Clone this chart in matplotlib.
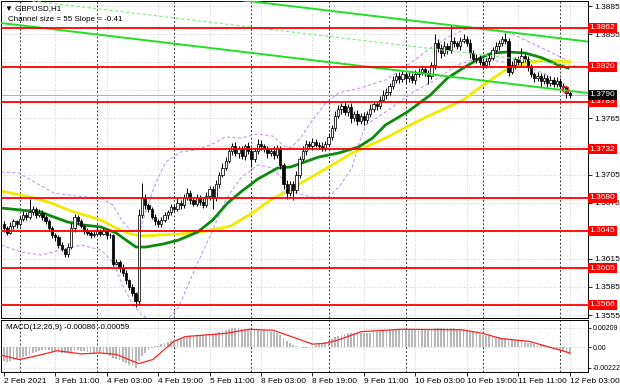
import matplotlib
matplotlib.use("Agg")
import matplotlib.pyplot as plt
from matplotlib.transforms import blended_transform_factory
import numpy as np

plt.rcParams["font.family"] = ["Liberation Sans", "DejaVu Sans"]

# GBPUSD H1, bar 0 = 2 Feb 19:00. prices in pips (3648 -> 1.3648)
close_pips = [
    3648, 3643, 3650, 3655, 3652, 3658, 3662, 3660, 3665, 3668,
    3662, 3664, 3660, 3655, 3648, 3640, 3638, 3630, 3625, 3620,
    3628, 3648, 3660, 3655, 3650, 3645, 3643, 3640, 3642, 3645,
    3642, 3645, 3640, 3640, 3610, 3612, 3605, 3600, 3592, 3585,
    3578, 3570, 3662, 3680, 3672, 3668, 3660, 3655, 3652, 3656,
    3662, 3665, 3670, 3668, 3675, 3672, 3680, 3685, 3678, 3674,
    3680, 3676, 3672, 3682, 3690, 3680, 3695, 3705, 3712, 3720,
    3730, 3735, 3728, 3732, 3725, 3735, 3730, 3722, 3730, 3738,
    3735, 3732, 3728, 3730, 3726, 3733, 3715, 3695, 3685, 3695,
    3688, 3705, 3722, 3730, 3738, 3735, 3740, 3737, 3736, 3733,
    3738, 3745, 3755, 3768, 3775, 3778, 3772, 3777, 3765, 3770,
    3762, 3768, 3763, 3770, 3775, 3780, 3778, 3785, 3790, 3793,
    3800, 3806, 3810, 3807, 3812, 3808, 3810, 3806, 3812, 3815,
    3818, 3813, 3810, 3822, 3845, 3840, 3835, 3842, 3838, 3848,
    3845, 3842, 3848, 3850, 3846, 3835, 3828, 3830, 3825, 3822,
    3826, 3830, 3838, 3842, 3845, 3850, 3848, 3815, 3822, 3828,
    3825, 3832, 3828, 3820, 3812, 3808, 3810, 3805, 3808, 3803,
    3806, 3802, 3805, 3800, 3798, 3792, 3790,
]
first_open_pips = 3652
upper_wick = [
    3, 2, 4, 3, 2, 3, 4, 3, 14, 3,
    2, 4, 3, 2, 3, 2, 3, 2, 3, 2,
    4, 5, 3, 2, 3, 2, 3, 2, 3, 4,
    2, 3, 2, 3, 2, 3, 2, 4, 3, 2,
    3, 2, 6, 16, 4, 3, 2, 3, 3, 4,
    3, 2, 4, 3, 5, 3, 4, 6, 3, 2,
    4, 3, 5, 4, 3, 3, 4, 3, 5, 4,
    3, 4, 5, 3, 4, 3, 5, 4, 3, 5,
    4, 3, 4, 3, 5, 4, 3, 2, 4, 3,
    3, 4, 3, 5, 4, 3, 4, 3, 3, 4,
    3, 4, 3, 5, 4, 3, 5, 3, 4, 3,
    4, 3, 4, 3, 5, 4, 3, 4, 5, 4,
    3, 4, 3, 5, 4, 3, 4, 3, 5, 4,
    3, 3, 4, 3, 10, 5, 4, 6, 3, 17,
    4, 3, 4, 5, 3, 4, 3, 4, 3, 4,
    3, 4, 3, 5, 4, 3, 6, 3, 4, 3,
    4, 8, 3, 4, 3, 3, 4, 3, 4, 3,
    4, 3, 4, 3, 3, 2, 2,
]
lower_wick = [
    4, 3, 2, 3, 4, 2, 3, 4, 2, 3,
    3, 2, 4, 3, 2, 3, 4, 3, 2, 3,
    3, 2, 4, 3, 2, 4, 3, 3, 2, 3,
    3, 2, 4, 3, 3, 2, 4, 3, 4, 3,
    3, 6, 4, 3, 4, 3, 2, 4, 3, 3,
    2, 4, 3, 3, 2, 4, 3, 2, 4, 3,
    3, 4, 3, 2, 4, 12, 3, 4, 3, 2,
    3, 4, 3, 5, 3, 4, 3, 9, 4, 3,
    4, 3, 5, 3, 4, 3, 4, 5, 6, 3,
    10, 3, 4, 3, 4, 3, 4, 3, 4, 3,
    3, 2, 3, 4, 3, 5, 3, 4, 5, 3,
    4, 3, 5, 3, 4, 3, 4, 3, 3, 4,
    3, 4, 3, 4, 3, 5, 4, 3, 4, 3,
    4, 3, 8, 3, 4, 4, 5, 3, 4, 3,
    4, 3, 4, 3, 4, 5, 3, 4, 3, 4,
    3, 4, 3, 3, 4, 3, 4, 5, 3, 4,
    3, 4, 3, 4, 3, 4, 3, 6, 3, 4,
    3, 4, 3, 4, 3, 5, 3,
]

# MACD(12,26,9) main line per bar, in 1e-5
macd_main = [
    -150, -152, -148, -140, -130, -118, -105, -92, -78, -62,
    -50, -40, -32, -28, -30, -35, -40, -48, -55, -62,
    -60, -48, -35, -32, -35, -42, -50, -56, -60, -62,
    -64, -66, -70, -90, -110, -125, -140, -155, -170, -185,
    -200, -222, -150, -95, -55, -25, -5, 10, 20, 32,
    45, 58, 72, 82, 95, 102, 112, 122, 125, 126,
    130, 132, 133, 138, 145, 146, 155, 168, 180, 192,
    203, 209, 207, 205, 200, 202, 198, 190, 188, 190,
    188, 183, 176, 170, 162, 160, 130, 100, 70, 45,
    25, 10, 2, -5, -2, 8, 18, 28, 38, 48,
    58, 72, 90, 110, 125, 138, 143, 150, 150, 152,
    150, 152, 150, 153, 156, 162, 163, 168, 175, 180,
    186, 190, 195, 195, 198, 196, 195, 192, 193, 194,
    196, 193, 188, 192, 205, 207, 205, 206, 204, 208,
    206, 203, 200, 196, 190, 180, 168, 155, 142, 130,
    122, 118, 115, 112, 108, 105, 100, 88, 80, 75,
    68, 64, 58, 50, 42, 35, 28, 22, 15, 8,
    0, -8, -18, -28, -40, -60, -86,
]
signal_bar = [-0.8, 4.8, 11.6, 16.6, 24, 30, 35, 42, 46.4, 52.7, 56.4, 68.8, 76.3,
              83.8, 90, 96, 100, 104, 111.2, 123.6, 142.3, 148.5, 154.7, 163.4, 171, 176]
signal_val = [-84, -131, -80, -35, -70, -60, -75, -175, -130, 60, 117, 150, 195,
              185, 110, 35, 45, 80, 170, 195, 190, 155, 95, 65, -10, -59]

# moving averages (bar, pips)
ma_green_bar = [-0.9, 5.3, 11.6, 14.7, 19.9, 24.9, 30.2, 34.9, 38.0, 41.1, 44.2, 49.5,
                54.4, 60.3, 65.0, 69.6, 73.7, 79.0, 85.2, 89.2, 97.9, 104.1, 110.3,
                114.7, 118.7, 125.5, 132.7, 138.0, 142.9, 148.2, 151.9, 156.9, 162.2,
                167.5, 172.4, 175.5]
ma_green_pips = [3669.3, 3667.1, 3665.0, 3660.7, 3654.3, 3651.1, 3649.0, 3642.7, 3635.1,
                 3627.6, 3627.6, 3630.8, 3635.1, 3643.7, 3656.5, 3674.6, 3686.4, 3700.2,
                 3712.0, 3713.1, 3723.7, 3728.0, 3734.4, 3744.0, 3757.9, 3771.8, 3790.0,
                 3808.1, 3818.8, 3829.5, 3834.8, 3835.9, 3834.8, 3829.5, 3822.0, 3818.8]
ma_yellow_bar = [-0.9, 8.4, 14.7, 20.9, 27.1, 30.2, 34.9, 39.5, 42.6, 48.8, 55.0, 61.2,
                 70.6, 76.8, 83.0, 89.2, 97.9, 108.4, 118.7, 126.4, 132.7, 142.9, 148.2,
                 156.0, 162.2, 168.4, 176.1]
ma_yellow_pips = [3687.4, 3681.0, 3674.6, 3666.1, 3659.7, 3656.5, 3647.9, 3641.5, 3639.4,
                  3640.5, 3641.5, 3643.7, 3650.1, 3662.9, 3677.8, 3689.6, 3706.7, 3728.0,
                  3744.0, 3757.9, 3768.6, 3784.6, 3798.5, 3816.7, 3824.1, 3827.3, 3825.2]

# bollinger bands (bar, pips)
band_up_bar = [-0.9, 4.7, 10.0, 15.6, 22.4, 30.2, 33.9, 37.0, 40.1, 42.6, 44.8, 47.3, 50.4,
               55.0, 59.7, 64.3, 69.0, 73.7, 79.0, 83.6, 86.7, 89.2, 92.3, 96.0, 100.1,
               104.1, 110.9, 118.7, 126.5, 132.7, 138.9, 145.1, 151.3, 157.5, 162.2,
               167.4, 171.8, 176.1]
band_up_pips = [3707.7, 3706.7, 3696.0, 3685.3, 3682.1, 3680.0, 3672.5, 3654.3, 3643.7,
                3647.9, 3672.5, 3696.0, 3718.4, 3729.1, 3731.2, 3736.6, 3745.1, 3744.0,
                3748.3, 3746.2, 3736.6, 3733.4, 3744.0, 3763.3, 3781.4, 3792.1, 3797.4,
                3806.0, 3824.1, 3840.1, 3853.0, 3862.6, 3861.5, 3856.2, 3848.7, 3840.1,
                3832.7, 3825.2]
band_dn_bar = [-0.9, 5.3, 11.6, 17.8, 24.0, 30.2, 33.9, 37.0, 40.1, 43.2, 47.3, 51.3, 54.4,
               59.7, 64.3, 69.0, 73.7, 79.0, 83.6, 87.0, 89.8, 95.4, 101.0, 104.7, 108.4,
               110.3, 112.5, 118.7, 127.4, 134.2, 141.1, 148.2, 155.0, 162.2, 168.4,
               173.0, 176.1]
band_dn_pips = [3629.8, 3622.3, 3619.1, 3624.4, 3629.8, 3624.4, 3611.6, 3587.1, 3565.7,
                3554.0, 3547.5, 3551.8, 3563.6, 3606.3, 3640.4, 3677.8, 3701.3, 3715.2,
                3712.0, 3699.2, 3686.4, 3681.0, 3681.0, 3693.8, 3713.1, 3736.6, 3757.9,
                3771.8, 3793.2, 3806.0, 3822.0, 3830.5, 3825.2, 3820.9, 3812.4, 3800.6,
                3790.0]

# regression channel: lower line at bar 0, slope and width in pips
chan_lower0 = 3866.5
chan_slope = -0.41
chan_size = 55

levels = [1.3862, 1.3820, 1.3783, 1.3732, 1.3680, 1.3645, 1.3605, 1.3566]
bid = 1.3790
alert_bar, alert_pips = 174.6, 3796.4

date_labels = ["2 Feb 2021", "3 Feb 11:00", "4 Feb 03:00", "4 Feb 19:00", "5 Feb 11:00",
               "8 Feb 03:00", "8 Feb 19:00", "9 Feb 11:00", "10 Feb 03:00", "10 Feb 19:00",
               "11 Feb 11:00", "12 Feb 03:00"]
day_starts = [5, 29, 53, 77, 101, 125, 149, 173]


def price(p):
    # pips -> quote, 3648 -> 1.3648
    return 1.0 + np.asarray(p, dtype=float) * 1e-4


closes = price(close_pips)
opens = np.concatenate([[price(first_open_pips)], closes[:-1]])
highs = np.maximum(opens, closes) + np.array(upper_wick) * 1e-4
lows = np.minimum(opens, closes) - np.array(lower_wick) * 1e-4
bars = np.arange(len(closes))
label_bars = np.arange(0, len(closes), 16)

xlim = (-0.87, 181.7)
grid_kw = dict(color="#c4c4c4", lw=0.6, ls=(0, (1, 2)), zorder=0.5)
sep_kw = dict(color="#383838", lw=0.7, ls=(0, (2, 2)), zorder=0.6)

fig = plt.figure(figsize=(6.2, 3.88), dpi=100)
ax = fig.add_axes([1 / 620, 70 / 388, 587 / 620, 317 / 388])
ax2 = fig.add_axes([1 / 620, 16 / 388, 587 / 620, 52 / 388])

# ---- main panel
ax.set_xlim(*xlim)
ax.set_ylim(1.355182, 1.389034)
price_ticks = 1.3555 + 0.003 * np.arange(12)
for p in price_ticks:
    ax.axhline(p, **grid_kw)
for b in label_bars:
    ax.axvline(b, **grid_kw)
for b in day_starts:
    ax.axvline(b, **sep_kw)

band_kw = dict(color="#c59cf0", lw=0.8, ls=(0, (3, 2)), zorder=1)
ax.plot(band_up_bar, price(band_up_pips), **band_kw)
ax.plot(band_dn_bar, price(band_dn_pips), **band_kw)
ax.plot(ma_yellow_bar, price(ma_yellow_pips), color="#f2ea00", lw=2.0, zorder=2)
ax.plot(ma_green_bar, price(ma_green_pips), color="#0b8a0b", lw=2.0, zorder=2.1)
ax.axhline(bid, color="#b0b0b0", lw=0.7, zorder=1)

ax.vlines(bars, lows, highs, color="black", lw=0.7, zorder=2.9)
bull = closes >= opens
ax.bar(bars[bull], np.maximum(closes - opens, 0.00002)[bull], bottom=opens[bull], width=0.7,
       facecolor="white", edgecolor="black", linewidth=0.55, zorder=3)
ax.bar(bars[~bull], (opens - closes)[~bull], bottom=closes[~bull], width=0.7,
       facecolor="black", edgecolor="black", linewidth=0.55, zorder=3)

cx = np.array(xlim)
lower = price(chan_lower0 + chan_slope * cx)
ax.plot(cx, lower, color="#22e022", lw=1.4, zorder=4)
ax.plot(cx, lower + chan_size * 1e-4, color="#22e022", lw=1.4, zorder=4)
ax.plot(cx, lower + chan_size * 0.5e-4, color="#7ef07e", lw=0.8, ls=(0, (3, 2)), zorder=4)

for lv in levels:
    ax.axhline(lv, color="#ff0000", lw=1.3, zorder=4.5)
ax.plot(alert_bar, price(alert_pips), "o", ms=4.5, mfc="none", mec="#ff3030", mew=0.8,
        zorder=5)

# tick labels hidden behind the level boxes are left blank
covered = [1.3825, 1.3795, 1.3735, 1.3645]
ax.yaxis.tick_right()
ax.set_yticks(price_ticks)
ax.set_yticklabels(["" if any(abs(p - c) < 1e-6 for c in covered) else f"{p:.4f}"
                    for p in price_ticks])
ax.tick_params(axis="y", length=3, width=0.6, labelsize=6, pad=1.5)
ax.tick_params(axis="x", length=0, labelbottom=False)

tr = blended_transform_factory(ax.transAxes, ax.transData)
for lv in levels:
    ax.text(1.003, lv, f"{lv:.4f}", transform=tr, fontsize=6, color="white", va="center",
            ha="left", clip_on=False, zorder=6,
            bbox=dict(boxstyle="square,pad=0.18", fc="#ff0000", ec="none"))
ax.text(1.003, bid, f"{bid:.4f}", transform=tr, fontsize=6, color="white", va="center",
        ha="left", clip_on=False, zorder=6,
        bbox=dict(boxstyle="square,pad=0.18", fc="black", ec="none"))

ax.text(0.006, 0.988, "▼ GBPUSD,H1", transform=ax.transAxes, fontsize=5.8, va="top",
        ha="left", zorder=7)
ax.text(0.012, 0.952, "Channel size = 55 Slope = -0.41", transform=ax.transAxes,
        fontsize=5.8, va="top", ha="left", zorder=7)

# ---- MACD panel
ax2.set_xlim(*xlim)
ax2.set_ylim(-0.002651, 0.002952)
macd_ticks = [-0.00222, 0.0, 0.00209]
for p in macd_ticks:
    ax2.axhline(p, **grid_kw)
for b in label_bars:
    ax2.axvline(b, **grid_kw)
for b in day_starts:
    ax2.axvline(b, **sep_kw)
ax2.bar(bars, np.array(macd_main) / 1e5, width=0.55, color="#b8b8b8", zorder=2)
ax2.plot(signal_bar, np.array(signal_val) / 1e5, color="#ff2020", lw=0.9, zorder=3)

ax2.yaxis.tick_right()
ax2.set_yticks(macd_ticks)
ax2.set_yticklabels(["-0.00222", "0.00", "0.00209"])
ax2.tick_params(axis="y", length=2.5, width=0.6, labelsize=5, pad=0.8)
ax2.set_xticks(label_bars)
ax2.set_xticklabels(date_labels)
ax2.tick_params(axis="x", length=3, width=0.6, labelsize=6, pad=1)
for lbl in ax2.get_xticklabels():
    lbl.set_ha("left")
ax2.text(0.008, 0.93, "MACD(12,26,9) -0.00086 -0.00059", transform=ax2.transAxes,
         fontsize=5.8, va="top", ha="left", zorder=7)

for a in (ax, ax2):
    for s in a.spines.values():
        s.set_linewidth(0.7)

fig.savefig("out.png", dpi=100)
